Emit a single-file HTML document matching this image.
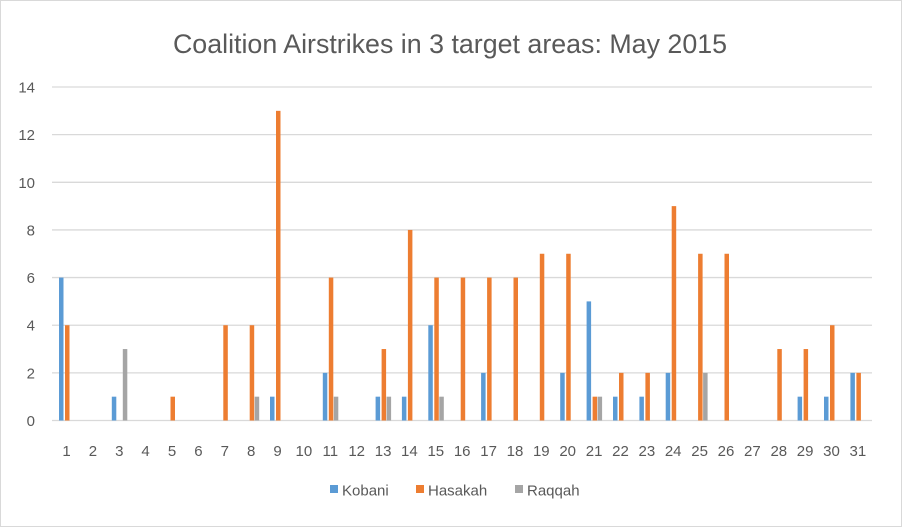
<!DOCTYPE html>
<html><head><style>body{margin:0;background:#fff}svg{display:block}</style></head><body>
<svg width="902" height="527" xmlns="http://www.w3.org/2000/svg" font-family="Liberation Sans, sans-serif">
<rect x="0.5" y="0.5" width="901" height="526" fill="#fff" stroke="#d9d9d9"/>
<text x="450" y="53" font-size="26.8" fill="#595959" text-anchor="middle">Coalition Airstrikes in 3 target areas: May 2015</text>
<g stroke="#d9d9d9" stroke-width="1.3">
<line x1="52" x2="872" y1="420.5" y2="420.5"/><line x1="52" x2="872" y1="372.86" y2="372.86"/><line x1="52" x2="872" y1="325.22" y2="325.22"/><line x1="52" x2="872" y1="277.58" y2="277.58"/><line x1="52" x2="872" y1="229.94" y2="229.94"/><line x1="52" x2="872" y1="182.3" y2="182.3"/><line x1="52" x2="872" y1="134.66" y2="134.66"/><line x1="52" x2="872" y1="87.02" y2="87.02"/>
</g>
<g font-size="15" fill="#595959" text-anchor="end">
<text x="35" y="426">0</text><text x="35" y="378.4">2</text><text x="35" y="330.7">4</text><text x="35" y="283.1">6</text><text x="35" y="235.4">8</text><text x="35" y="187.8">10</text><text x="35" y="140.2">12</text><text x="35" y="92.5">14</text>
</g>
<g fill="#5b9bd5">
<rect x="59" y="277.58" width="4.5" height="142.92"/>
<rect x="111.8" y="396.68" width="4.5" height="23.82"/>
<rect x="270" y="396.68" width="4.5" height="23.82"/>
<rect x="322.8" y="372.86" width="4.5" height="47.64"/>
<rect x="375.6" y="396.68" width="4.5" height="23.82"/>
<rect x="401.9" y="396.68" width="4.5" height="23.82"/>
<rect x="428.3" y="325.22" width="4.5" height="95.28"/>
<rect x="481.1" y="372.86" width="4.5" height="47.64"/>
<rect x="560.2" y="372.86" width="4.5" height="47.64"/>
<rect x="586.6" y="301.4" width="4.5" height="119.1"/>
<rect x="613" y="396.68" width="4.5" height="23.82"/>
<rect x="639.4" y="396.68" width="4.5" height="23.82"/>
<rect x="665.7" y="372.86" width="4.5" height="47.64"/>
<rect x="797.6" y="396.68" width="4.5" height="23.82"/>
<rect x="824" y="396.68" width="4.5" height="23.82"/>
<rect x="850.4" y="372.86" width="4.5" height="47.64"/>
</g>
<g fill="#ed7d31">
<rect x="65" y="325.22" width="4.5" height="95.28"/>
<rect x="170.5" y="396.68" width="4.5" height="23.82"/>
<rect x="223.3" y="325.22" width="4.5" height="95.28"/>
<rect x="249.7" y="325.22" width="4.5" height="95.28"/>
<rect x="276" y="110.84" width="4.5" height="309.66"/>
<rect x="328.8" y="277.58" width="4.5" height="142.92"/>
<rect x="381.6" y="349.04" width="4.5" height="71.46"/>
<rect x="407.9" y="229.94" width="4.5" height="190.56"/>
<rect x="434.3" y="277.58" width="4.5" height="142.92"/>
<rect x="460.7" y="277.58" width="4.5" height="142.92"/>
<rect x="487.1" y="277.58" width="4.5" height="142.92"/>
<rect x="513.5" y="277.58" width="4.5" height="142.92"/>
<rect x="539.8" y="253.76" width="4.5" height="166.74"/>
<rect x="566.2" y="253.76" width="4.5" height="166.74"/>
<rect x="592.6" y="396.68" width="4.5" height="23.82"/>
<rect x="619" y="372.86" width="4.5" height="47.64"/>
<rect x="645.4" y="372.86" width="4.5" height="47.64"/>
<rect x="671.7" y="206.12" width="4.5" height="214.38"/>
<rect x="698.1" y="253.76" width="4.5" height="166.74"/>
<rect x="724.5" y="253.76" width="4.5" height="166.74"/>
<rect x="777.3" y="349.04" width="4.5" height="71.46"/>
<rect x="803.6" y="349.04" width="4.5" height="71.46"/>
<rect x="830" y="325.22" width="4.5" height="95.28"/>
<rect x="856.4" y="372.86" width="4.5" height="47.64"/>
</g>
<g fill="#a5a5a5">
<rect x="122.8" y="349.04" width="4.5" height="71.46"/>
<rect x="254.7" y="396.68" width="4.5" height="23.82"/>
<rect x="333.8" y="396.68" width="4.5" height="23.82"/>
<rect x="386.6" y="396.68" width="4.5" height="23.82"/>
<rect x="439.3" y="396.68" width="4.5" height="23.82"/>
<rect x="597.6" y="396.68" width="4.5" height="23.82"/>
<rect x="703.1" y="372.86" width="4.5" height="47.64"/>
</g>
<g font-size="15" fill="#595959" text-anchor="middle">
<text x="66.5" y="456">1</text><text x="92.9" y="456">2</text><text x="119.3" y="456">3</text><text x="145.6" y="456">4</text><text x="172" y="456">5</text><text x="198.4" y="456">6</text><text x="224.8" y="456">7</text><text x="251.2" y="456">8</text><text x="277.5" y="456">9</text><text x="303.9" y="456">10</text><text x="330.3" y="456">11</text><text x="356.7" y="456">12</text><text x="383.1" y="456">13</text><text x="409.4" y="456">14</text><text x="435.8" y="456">15</text><text x="462.2" y="456">16</text><text x="488.6" y="456">17</text><text x="515" y="456">18</text><text x="541.3" y="456">19</text><text x="567.7" y="456">20</text><text x="594.1" y="456">21</text><text x="620.5" y="456">22</text><text x="646.9" y="456">23</text><text x="673.2" y="456">24</text><text x="699.6" y="456">25</text><text x="726" y="456">26</text><text x="752.4" y="456">27</text><text x="778.8" y="456">28</text><text x="805.1" y="456">29</text><text x="831.5" y="456">30</text><text x="857.9" y="456">31</text>
</g>
<g font-size="15" fill="#595959">
<rect x="330" y="485" width="8" height="8" fill="#5b9bd5"/><text x="342" y="495.5">Kobani</text>
<rect x="416" y="485" width="8" height="8" fill="#ed7d31"/><text x="428" y="495.5">Hasakah</text>
<rect x="515" y="485" width="8" height="8" fill="#a5a5a5"/><text x="527" y="495.5">Raqqah</text>
</g>
</svg>
</body></html>
